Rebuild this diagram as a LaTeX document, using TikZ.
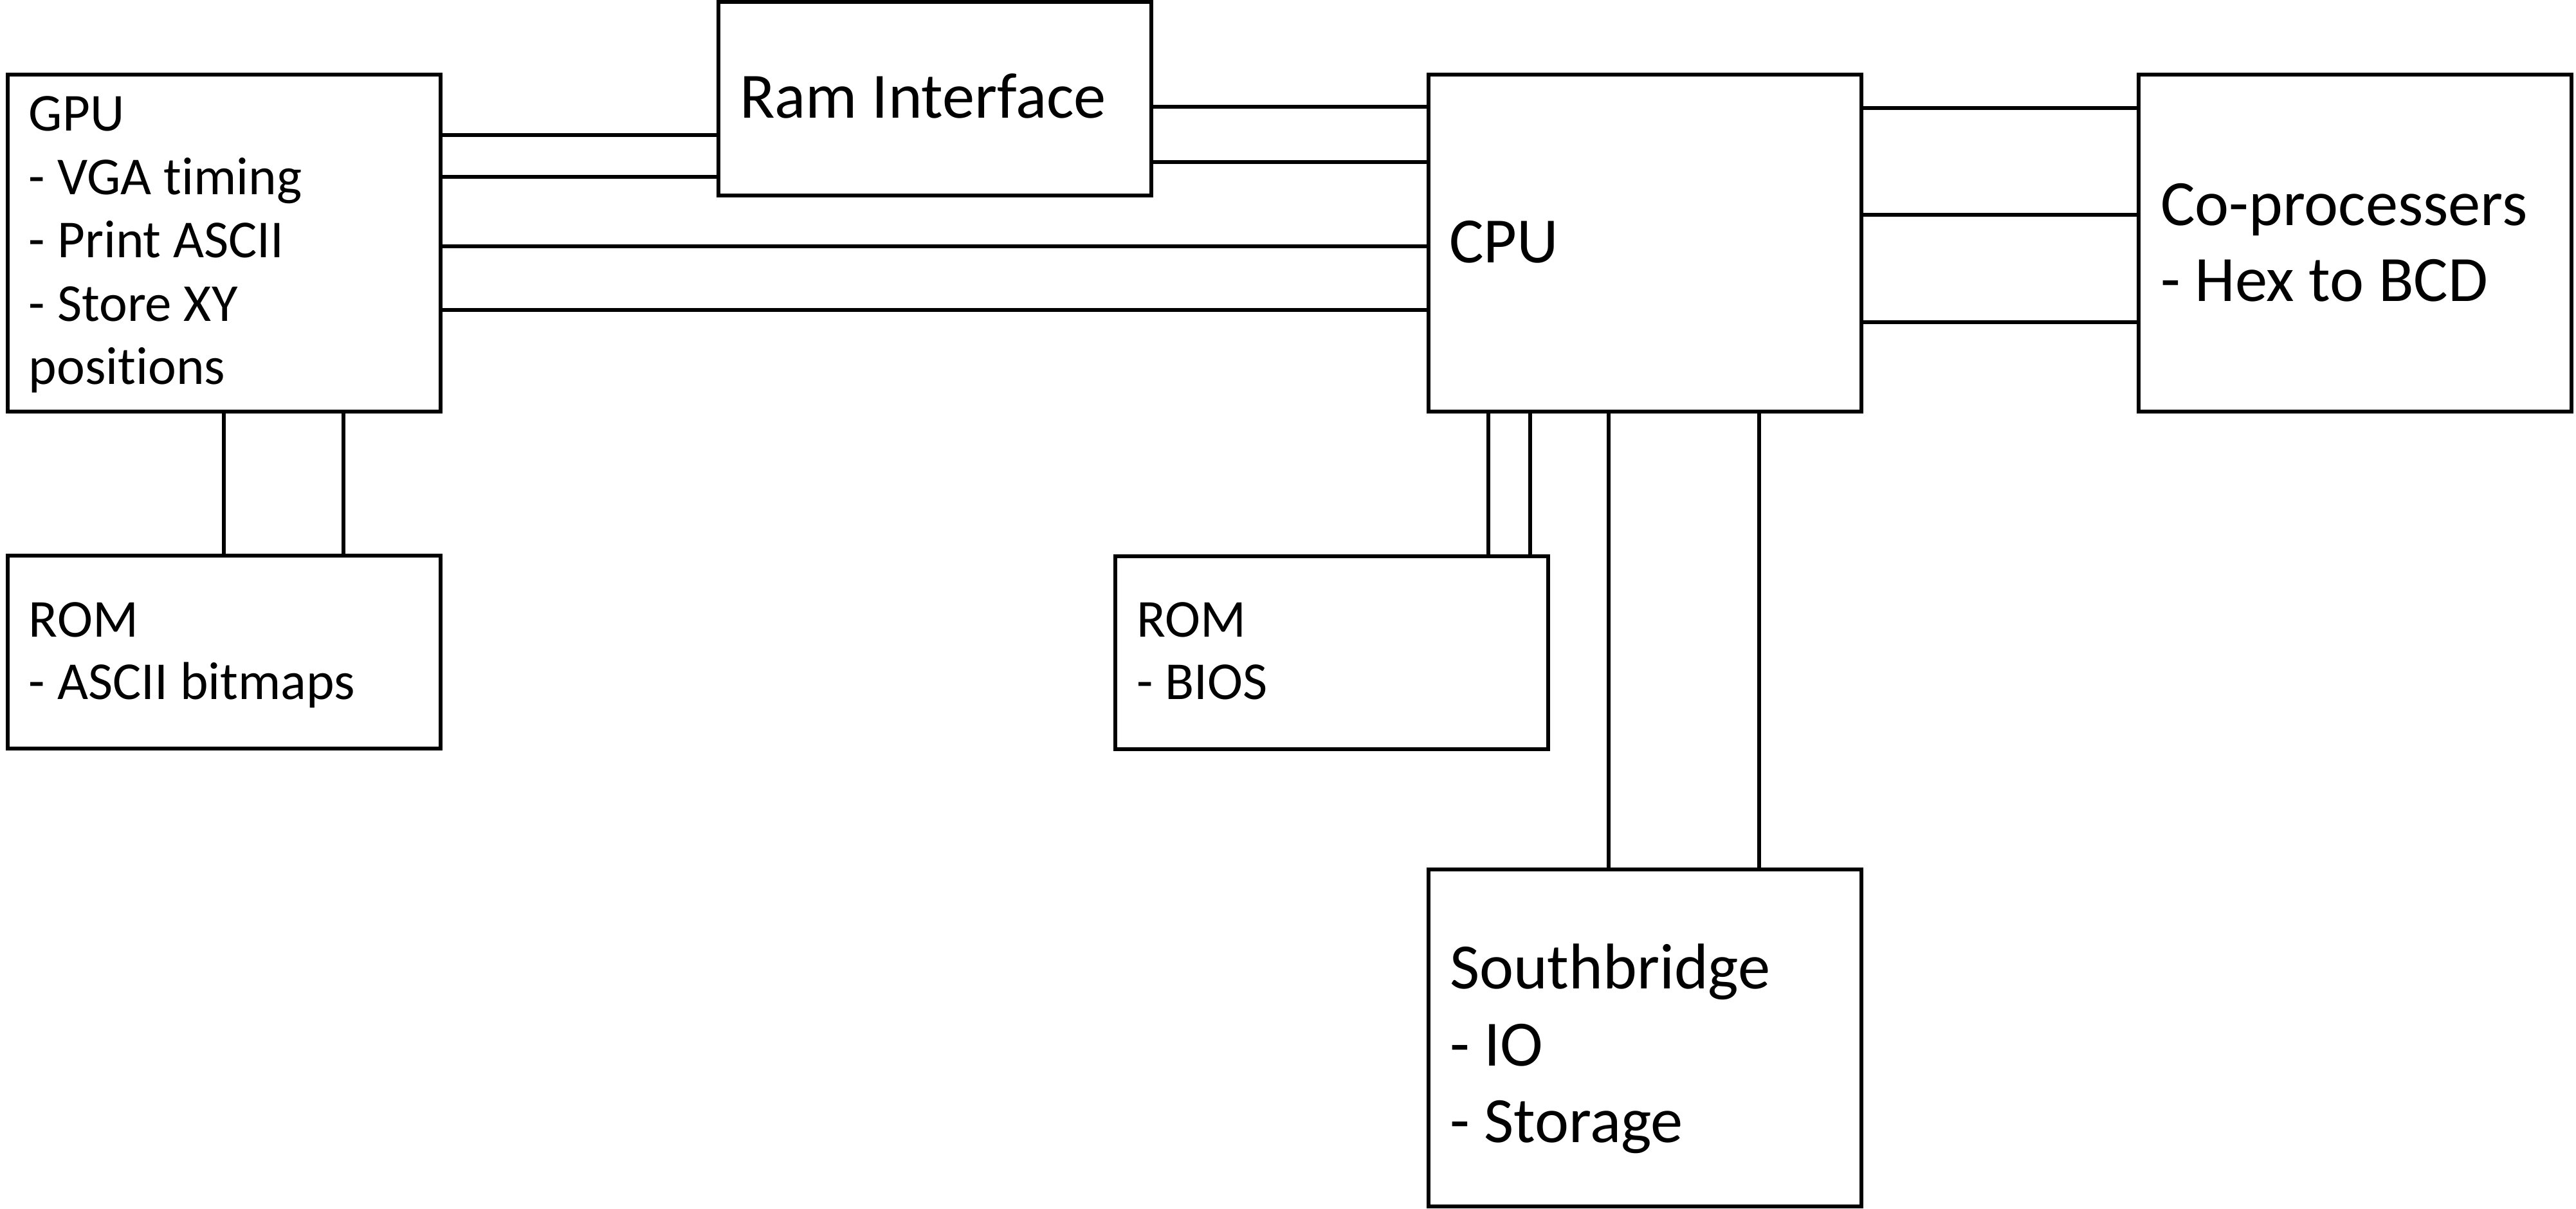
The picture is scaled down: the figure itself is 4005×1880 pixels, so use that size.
\documentclass[tikz,border=0pt]{standalone}
\usepackage{fontspec}
\setmainfont{Carlito}[Ligatures=NoCommon]
\begin{document}
\begin{tikzpicture}[x=0.2pt,y=-0.2pt,
  box/.style={draw,line width=1.2pt,inner sep=0pt,outer sep=0pt,minimum width=134.6pt},
  tall/.style={box,minimum height=104.8pt},
  short/.style={box,minimum height=60pt},
  conn/.style={draw,line width=1.15pt},
  smalltxt/.style={anchor=base west,inner sep=0pt,font=\fontsize{16.6pt}{20pt}\selectfont},
  bigtxt/.style={anchor=base west,inner sep=0pt,font=\fontsize{20.1pt}{24pt}\selectfont}]
\useasboundingbox (0,0) rectangle (4005,1880);
% boxes
\node[tall]  (gpu)   at (348.5,378) {};
\node[box,minimum height=60.2pt] (ram) at (1453,153.5) {};
\node[tall]  (cpu)   at (2557,378) {};
\node[tall]  (cop)   at (3661,378) {};
\node[short] (roml)  at (348.5,1014) {};
\node[short] (romb)  at (2070.5,1014.5) {};
\node[tall]  (south) at (2557,1614) {};
% texts
\node[smalltxt] (gpu1) at (44,203.5) {GPU};
\node[smalltxt] (gpu2) at (44,302.1) {- VGA timing};
\node[smalltxt] (gpu3) at (44,400.7) {- Print ASCII};
\node[smalltxt] (gpu4) at (44,499.3) {- Store XY};
\node[smalltxt] (gpu5) at (44,597.9) {positions};
\node[bigtxt] (ram1) at (1149,184) {Ram Interface};
\node[bigtxt] (cpu1) at (2252,408) {CPU};
\node[bigtxt] (cop1) at (3358,350.5) {Co-processers};
\node[bigtxt] (cop2) at (3358,468) {- Hex to BCD};
\node[smalltxt] (roml1) at (44,990) {ROM};
\node[smalltxt] (roml2) at (44,1087.5) {- ASCII bitmaps};
\node[smalltxt] (romb1) at (1766,990) {ROM};
\node[smalltxt] (romb2) at (1766,1087.5) {- BIOS};
\node[bigtxt] (south1) at (2253,1537.6) {Southbridge};
\node[bigtxt] (south2) at (2253,1657) {- IO};
\node[bigtxt] (south3) at (2253,1776.6) {- Storage};
% connectors GPU - Ram
\draw[conn] (gpu.east |- 0,210) -- (ram.west |- 0,210);
\draw[conn] (gpu.east |- 0,275) -- (ram.west |- 0,275);
% Ram - CPU
\draw[conn] (ram.east |- 0,166) -- (cpu.west |- 0,166);
\draw[conn] (ram.east |- 0,252) -- (cpu.west |- 0,252);
% GPU - CPU
\draw[conn] (gpu.east |- 0,383) -- (cpu.west |- 0,383);
\draw[conn] (gpu.east |- 0,482) -- (cpu.west |- 0,482);
% CPU - Co-processers
\draw[conn] (cpu.east |- 0,168) -- (cop.west |- 0,168);
\draw[conn] (cpu.east |- 0,334) -- (cop.west |- 0,334);
\draw[conn] (cpu.east |- 0,501) -- (cop.west |- 0,501);
% GPU - ROM
\draw[conn] (gpu.south -| 348,0) -- (roml.north -| 348,0);
\draw[conn] (gpu.south -| 534,0) -- (roml.north -| 534,0);
% CPU - ROM BIOS
\draw[conn] (cpu.south -| 2314,0) -- (romb.north -| 2314,0);
\draw[conn] (cpu.south -| 2379,0) -- (romb.north -| 2379,0);
% CPU - Southbridge
\draw[conn] (cpu.south -| 2501,0) -- (south.north -| 2501,0);
\draw[conn] (cpu.south -| 2735,0) -- (south.north -| 2735,0);
\end{tikzpicture}
\end{document}
